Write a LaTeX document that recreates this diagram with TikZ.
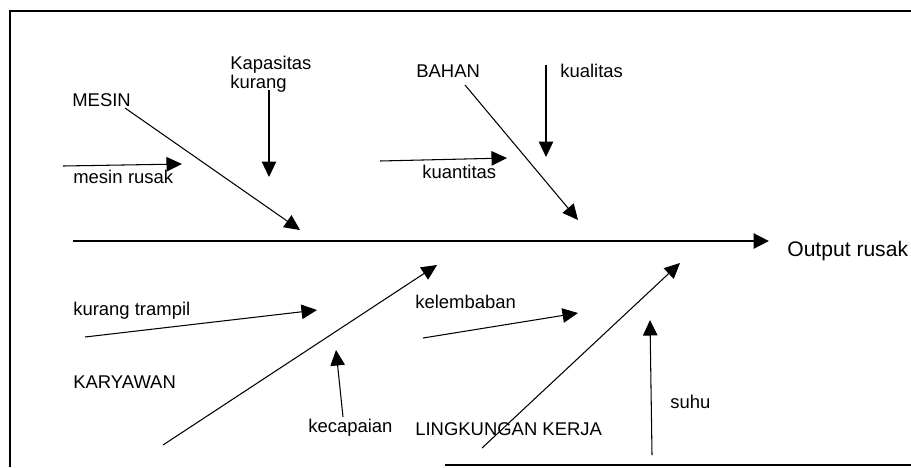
\documentclass[tikz,border=0pt]{standalone}
\usepackage{fontspec}
\setmainfont{Liberation Sans}
\usetikzlibrary{arrows.meta}

\begin{document}
\begin{tikzpicture}[
    x=0.02cm, y=-0.02cm,
    lbl/.style={anchor=base west, inner sep=0pt, font=\fontsize{10.5}{8.5}\selectfont},
    arr/.style={-{Triangle[length=3.1mm, width=2.9mm]}, line width=0.6pt},
    spine/.style={-{Triangle[length=3.1mm, width=3mm]}, line width=1.6pt}
]
\useasboundingbox (0,0) rectangle (911,467);

% frame
\draw[line width=1.1pt] (10,467) -- (10,11) -- (911,11);
\draw[line width=1.1pt] (445,465) -- (911,465);

% labels
\node[lbl] (mesin) at (72,106) {MESIN};
\node[lbl] (mesinrusak) at (73,183) {mesin\hspace{0.3em}rusak};
\node[lbl, anchor=north west, align=left] (kapasitas) at (230,56) {Kapasitas\\kurang};
\node[lbl] (bahan) at (416,77) {BAHAN};
\node[lbl] (kualitas) at (560,77) {kualitas};
\node[lbl] (kuantitas) at (422,178) {kuantitas};
\node[lbl, font=\fontsize{12}{14}\selectfont] (output) at (787,256) {Output rusak};
\node[lbl] (trampil) at (73,315) {kurang trampil};
\node[lbl] (karyawan) at (73,388) {KARYAWAN};
\node[lbl] (kecapaian) at (308,432) {kecapaian};
\node[lbl] (lingkungan) at (415,435) {LINGKUNGAN KERJA};
\node[lbl] (kelembaban) at (415,308) {kelembaban};
\node[lbl] (suhu) at (670,408) {suhu};

% end points of the bones
\coordinate (s0) at (73,241);
\coordinate (s1) at (769,241);
\coordinate (m0) at (125,108);
\coordinate (m1) at (300,230);
\coordinate (mr0) at (63,166);
\coordinate (mr1) at (182,164);
\coordinate (kp0) at (269,90);
\coordinate (kp1) at (269,177);
\coordinate (b0) at (465,85);
\coordinate (b1) at (578,220);
\coordinate (kl0) at (546,65);
\coordinate (kl1) at (546,157);
\coordinate (kn0) at (380,161);
\coordinate (kn1) at (507,158);
\coordinate (t0) at (85,337);
\coordinate (t1) at (317,310);
\coordinate (k0) at (163,445);
\coordinate (k1) at (437,265);
\coordinate (kc0) at (343,417);
\coordinate (kc1) at (336,350);
\coordinate (l0) at (482,448);
\coordinate (l1) at (680,263);
\coordinate (kb0) at (423,338);
\coordinate (kb1) at (578,313);
\coordinate (sh0) at (652,455);
\coordinate (sh1) at (650,320);

\draw[spine] (s0) -- (s1);
\draw[arr] (m0) -- (m1);
\draw[arr] (mr0) -- (mr1);
\draw[arr] (kp0) -- (kp1);
\draw[arr] (b0) -- (b1);
\draw[arr] (kl0) -- (kl1);
\draw[arr] (kn0) -- (kn1);
\draw[arr] (t0) -- (t1);
\draw[arr] (k0) -- (k1);
\draw[arr] (kc0) -- (kc1);
\draw[arr] (l0) -- (l1);
\draw[arr] (kb0) -- (kb1);
\draw[arr] (sh0) -- (sh1);

\end{tikzpicture}
\end{document}
